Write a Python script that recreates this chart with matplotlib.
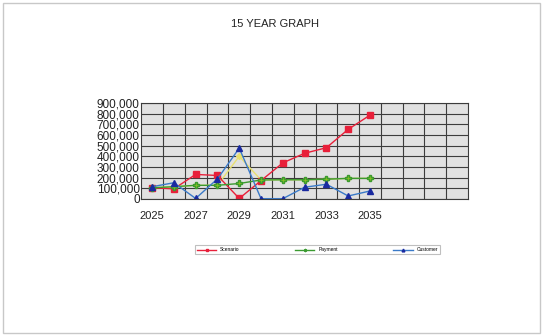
import matplotlib
matplotlib.use("Agg")
from matplotlib import pyplot as plt
from matplotlib.patches import Rectangle
from matplotlib.ticker import FuncFormatter

plt.rcParams['font.family'] = ['Liberation Sans', 'DejaVu Sans']

# 15 year span, data filled for the first 11 years
years = [str(y) for y in range(2025, 2040)]
tick_labels = ["2025", "", "2027", "", "2029", "", "2031", "", "2033", "", "2035", "", "", "", ""]

scenario = [105000, 95000, 230000, 220000, 5000, 172000, 338000, 428000, 480000, 652000, 785000]
payment = [105000, 115000, 128000, 128000, 145000, 178000, 180000, 180000, 185000, 193000, 193000]
payment_alt = [105000, 115000, 128000, 128000, 400000, 178000, 180000, 180000, 185000, 193000, 193000]
customer = [115000, 152000, 5000, 188000, 476000, 3000, 3000, 110000, 138000, 28000, 75000]

fig = plt.figure(figsize=(5.43, 3.35), dpi=100)
fig.patch.set_facecolor("white")
fig.patches.append(Rectangle((0.006, 0.006), 0.988, 0.985, transform=fig.transFigure,
                             fill=False, edgecolor="#c8c8c8", linewidth=1))

ax = fig.add_axes([0.26, 0.406, 0.602, 0.287])
ax.set_facecolor("#e1e1e1")

x = range(len(scenario))
ax.plot(x, payment_alt, color="#e8e070", linewidth=1, marker="D", markersize=3,
        markerfacecolor="#e8e070", markeredgecolor="#e8e070")
ax.plot(x, scenario, color="#e8203a", linewidth=1, marker="s", markersize=5,
        markeredgecolor="#e8203a", label="Scenario")
ax.plot(x, payment, color="#3a9a30", linewidth=1, marker="P", markersize=4,
        markerfacecolor="#88c020", markeredgecolor="#3a9a30", label="Payment")
ax.plot(x, customer, color="#3a7ac8", linewidth=1, marker="^", markersize=5,
        markerfacecolor="#1a2aa0", markeredgecolor="#1a2aa0", label="Customer")

ax.set_xlim(-0.5, len(years) - 0.5)
ax.set_ylim(0, 900000)
ax.set_yticks(range(0, 900001, 100000))
ax.yaxis.set_major_formatter(FuncFormatter(lambda v, p: f"{int(v):,}"))
ax.set_xticks(range(len(years)))
ax.set_xticklabels(tick_labels)

# column borders sit between the year positions
for b in [i - 0.5 for i in range(1, len(years))]:
    ax.axvline(b, color="#3c3c3c", linewidth=0.8, zorder=0.5)
ax.grid(axis="y", color="#3c3c3c", linewidth=0.8)
ax.set_axisbelow(True)
for s in ax.spines.values():
    s.set_color("#3c3c3c")
    s.set_linewidth(0.8)
ax.tick_params(length=0)
ax.tick_params(axis="x", pad=9, labelsize=8, colors="#222222")
ax.tick_params(axis="y", pad=1, labelsize=8.5, colors="#222222")

fig.text(0.506, 0.928, "15 YEAR GRAPH", ha="center", va="center", fontsize=8, color="#222222")

leg = fig.legend(loc="center", bbox_to_anchor=(0.359, 0.224, 0.451, 0.06), mode="expand",
                 ncol=3, fontsize=3.5, frameon=True, fancybox=False, handlelength=4,
                 markerscale=0.4, borderaxespad=0)
leg.get_frame().set_edgecolor("#b0b0b0")
leg.get_frame().set_linewidth(0.8)

fig.savefig("out.png", dpi=100)
